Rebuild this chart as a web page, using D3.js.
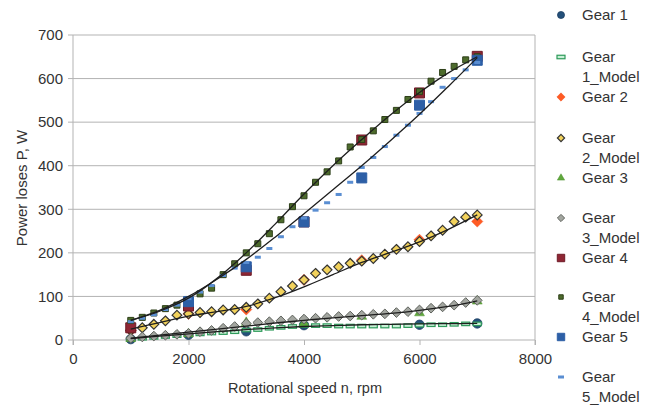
<!DOCTYPE html>
<html>
<head>
<meta charset="utf-8">
<script src="https://cdn.jsdelivr.net/npm/d3@7"></script>
<style>
  body { margin: 0; background: #fff; }
  svg text { font-family: "Liberation Sans", Arial, sans-serif; fill: #333; }
</style>
</head>
<body>
<svg id="chart" width="652" height="410"></svg>
<script>
/******************************** data ********************************/

// measured points, every 1000 rpm (null = no visible point)
var rpmMeas = [1000, 2000, 3000, 4000, 5000, 6000, 7000];
var gear1 = [2, 12, 20, 34, null, 35, 38];
var gear2 = [22, 60, 70, 138, 183, 230, 272];
var gear3 = [3, 14, 40, 38, 54, 62, 89];
var gear4 = [28, 78, 160, 271, 459, 567, 651];
var gear5 = [null, 88, 168, 271, 372, 539, 642];

// model points, every 200 rpm
var rpmModel = d3.range(1000, 7001, 200);
var gear1Model = [2, 4, 6, 8, 10, 12, 14, 16, 17, 19, 23, 24, 27, 29, 31, 33, 33, 33, 32, 32, 32, 32, 32, 32, 33, 34, 35, 35, 36, 37, 37];
var gear2Model = [22, 28, 36, 44, 57, 60, 63, 65, 69, 70, 75, 83, 96, 111, 124, 138, 153, 161, 168, 176, 181, 187, 197, 208, 214, 226, 239, 252, 272, 282, 287];
var gear3Model = [4, 7, 9, 11, 13, 15, 19, 22, 27, 31, 38, 40, 42, 44, 46, 48, 50, 52, 54, 55, 57, 59, 60, 63, 65, 69, 73, 76, 80, 86, 91];
var gear4Model = [45, 52, 62, 72, 80, 93, 106, 119, 150, 175, 200, 221, 244, 276, 306, 331, 362, 386, 411, 443, 460, 480, 506, 527, 552, 570, 594, 614, 628, 643, 650];
var gear5Model = [42, 50, 58, 70, 80, 95, 110, 125, 148, 165, 178, 190, 210, 237, 260, 280, 298, 315, 334, 362, 396, 419, 444, 470, 493, 520, 547, 580, 600, 620, 637];

// black trend lines
var rpmTrend = [1000, 1500, 2000, 2500, 3000, 3500, 4000, 4500, 5000, 5500, 6000, 6500, 7000];
var trend1 = [3, 9, 14, 19, 24, 28, 31, 33, 35, 36, 37, 37.5, 38];
var trend2 = [25, 40, 55, 65, 77, 97, 122, 150, 178, 201, 225, 254, 287];
var trend3 = [4, 11, 18, 25, 32, 39, 45, 51, 56, 61, 68, 77, 90];
var trend4 = [45, 66, 96, 142, 200, 266, 335, 400, 460, 517, 568, 613, 650];
var trend5 = [45, 68, 100, 140, 185, 236, 290, 345, 400, 458, 518, 582, 648];

var yTicks = [0, 100, 200, 300, 400, 500, 600, 700];
var xTicks = [0, 2000, 4000, 6000, 8000];

/******************************** layout ********************************/

var svg = d3.select('#chart');
var plotL = 73, plotR = 535, plotT = 35, plotB = 340;

var x = d3.scaleLinear().domain([0, 8000]).range([plotL, plotR]);
var y = d3.scaleLinear().domain([0, 700]).range([plotB, plotT]);

// grid
svg.append('g').selectAll('line').data(yTicks).join('line')
  .attr('x1', plotL - 5).attr('x2', plotR)
  .attr('y1', function(d){ return y(d); }).attr('y2', function(d){ return y(d); })
  .attr('stroke', '#b3b3b3').attr('stroke-width', 1);

// frame (left + right)
svg.append('line').attr('x1', plotL).attr('x2', plotL).attr('y1', plotT).attr('y2', plotB + 5)
  .attr('stroke', '#b3b3b3');
svg.append('line').attr('x1', plotR).attr('x2', plotR).attr('y1', plotT).attr('y2', plotB + 5)
  .attr('stroke', '#b3b3b3');

// axes
var yAxis = d3.axisLeft(y).tickValues(yTicks).tickSize(0).tickPadding(10);
var gy = svg.append('g').attr('transform', 'translate(' + plotL + ',0)').call(yAxis);
gy.select('.domain').remove();
gy.selectAll('text').style('font-size', '15px').style('font-family', '"Liberation Sans", Arial, sans-serif').attr('fill', '#333');

var xAxis = d3.axisBottom(x).tickValues(xTicks).tickSize(5).tickPadding(8).tickFormat(d3.format('d'));
var gx = svg.append('g').attr('transform', 'translate(0,' + plotB + ')').call(xAxis);
gx.select('.domain').remove();
gx.selectAll('line').attr('stroke', '#b3b3b3');
gx.selectAll('text').style('font-size', '15px').style('font-family', '"Liberation Sans", Arial, sans-serif').attr('fill', '#333');

svg.append('text').attr('x', 305).attr('y', 393)
  .attr('text-anchor', 'middle').style('font-size', '14.5px').text('Rotational speed n, rpm');
svg.append('text').attr('transform', 'translate(27,188) rotate(-90)')
  .attr('text-anchor', 'middle').style('font-size', '15px').text('Power loses P, W');

/******************************** markers ********************************/

var sym = {
  circle: d3.symbol().type(d3.symbolCircle),
  square: d3.symbol().type(d3.symbolSquare),
  diamond: d3.symbol().type(d3.symbolDiamond2),
  triangle: d3.symbol().type(d3.symbolTriangle2)
};

function drawShape(g, kind, size, fill, stroke, sw) {
  if (kind === 'dash') {
    return g.append('rect').attr('x', -size[0] / 2).attr('y', -size[1] / 2)
      .attr('width', size[0]).attr('height', size[1])
      .attr('fill', fill).attr('stroke', stroke).attr('stroke-width', sw);
  }
  return g.append('path').attr('d', sym[kind].size(size)())
    .attr('fill', fill).attr('stroke', stroke).attr('stroke-width', sw);
}

var series = [
  { name: 'Gear 1', xs: rpmMeas, ys: gear1, kind: 'circle', size: 70, fill: '#24507a', stroke: '#1d3f62', sw: 0.8 },
  { name: 'Gear 1_Model', xs: rpmModel, ys: gear1Model, kind: 'dash', size: [8, 3.5], fill: '#c8f0d6', stroke: '#2e9a5a', sw: 1.2 },
  { name: 'Gear 2', xs: rpmMeas, ys: gear2, kind: 'diamond', size: 80, fill: '#ff5b24', stroke: '#f05020', sw: 0.5 },
  { name: 'Gear 2_Model', xs: rpmModel, ys: gear2Model, kind: 'diamond', size: 60, fill: '#f2d25c', stroke: '#333', sw: 1.2 },
  { name: 'Gear 3', xs: rpmMeas, ys: gear3, kind: 'triangle', size: 70, fill: '#5fa83c', stroke: '#4e9030', sw: 0.5 },
  { name: 'Gear 3_Model', xs: rpmModel, ys: gear3Model, kind: 'diamond', size: 60, fill: '#a3a6a0', stroke: '#5e625c', sw: 1 },
  { name: 'Gear 4', xs: rpmMeas, ys: gear4, kind: 'square', size: 100, fill: '#8e2634', stroke: '#6e1a26', sw: 1 },
  { name: 'Gear 4_Model', xs: rpmModel, ys: gear4Model, kind: 'square', size: 36, fill: '#4d6b2c', stroke: '#2d3f18', sw: 1 },
  { name: 'Gear 5', xs: rpmMeas, ys: gear5, kind: 'square', size: 100, fill: '#2d5fa6', stroke: '#2d5fa6', sw: 1 },
  { name: 'Gear 5_Model', xs: rpmModel, ys: gear5Model, kind: 'dash', size: [6, 3], fill: '#5a8ed2', stroke: 'none', sw: 0 }
];

var marks = svg.append('g');
series.forEach(function(s) {
  var g = marks.append('g');
  s.xs.forEach(function(r, i) {
    if (s.ys[i] == null) return;
    var p = g.append('g').attr('transform', 'translate(' + x(r) + ',' + y(s.ys[i]) + ')');
    drawShape(p, s.kind, s.size, s.fill, s.stroke, s.sw);
  });
});

/******************************** trend lines ********************************/

var line = d3.line().curve(d3.curveCatmullRom)
  .x(function(d){ return x(d[0]); }).y(function(d){ return y(d[1]); });

[trend1, trend2, trend3, trend4, trend5].forEach(function(t) {
  svg.append('path').datum(rpmTrend.map(function(r, i){ return [r, t[i]]; }))
    .attr('d', line).attr('fill', 'none').attr('stroke', '#1e1e1e').attr('stroke-width', 1.3);
});

/******************************** legend ********************************/

var legendY = [15, 57, 97, 138, 178, 218, 258, 297, 337, 377];
var legend = svg.append('g');
series.forEach(function(s, i) {
  var yy = legendY[i];
  var p = legend.append('g').attr('transform', 'translate(561,' + yy + ')');
  var sz = s.kind === 'dash' ? s.size : s.size * 0.55;
  drawShape(p, s.kind, sz, s.fill, s.stroke, s.sw);
  var parts = s.name.split(' ');
  if (s.name.indexOf('_Model') > 0) {
    legend.append('text').attr('x', 582).attr('y', yy + 5).style('font-size', '15px').text(parts[0]);
    legend.append('text').attr('x', 582).attr('y', yy + 25).style('font-size', '15px').text(parts[1]);
  } else {
    legend.append('text').attr('x', 582).attr('y', yy + 5).style('font-size', '15px').text(s.name);
  }
});
</script>
</body>
</html>
